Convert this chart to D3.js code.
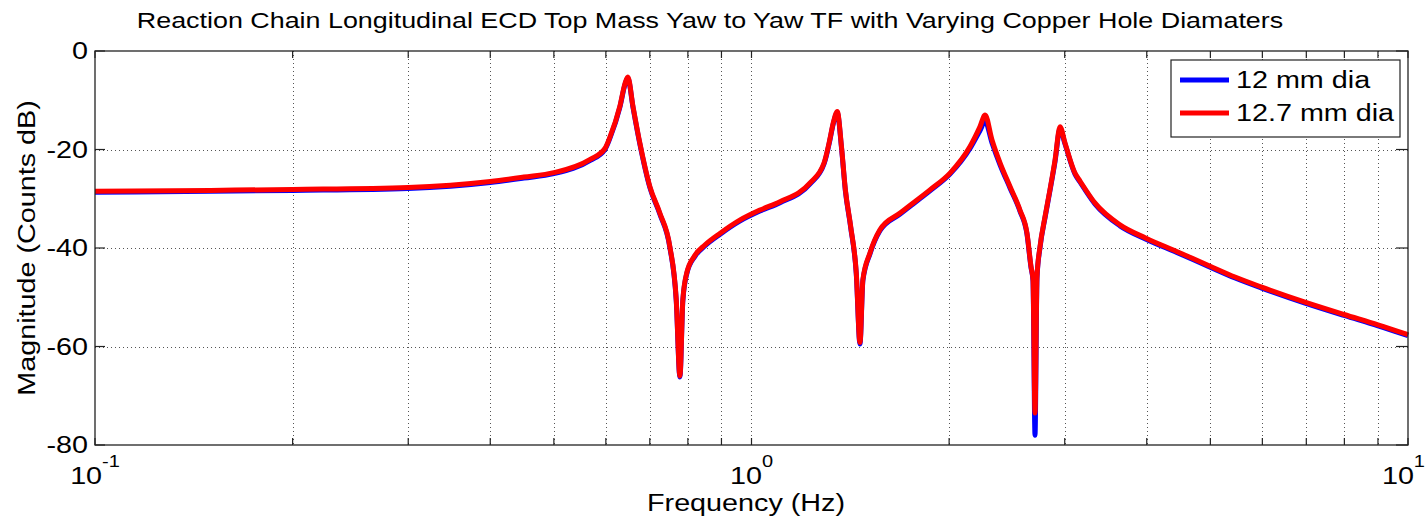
<!DOCTYPE html>
<html>
<head>
<meta charset="utf-8">
<title>Yaw to Yaw TF</title>
<script src="https://cdn.jsdelivr.net/npm/d3@7"></script>
<style>
  body { margin: 0; background: #fff; }
  text { font-family: "Liberation Sans", Arial, sans-serif; fill: #000; }
</style>
</head>
<body>
<svg id="chart" width="1427" height="524"></svg>
<script>
// frequency points (Hz)
var freqHz = [0.1, 0.15, 0.2, 0.3, 0.4, 0.45, 0.5, 0.568, 0.598, 0.609, 0.63, 0.642, 0.648, 0.66, 0.676, 0.7, 0.725, 0.751, 0.768, 0.778,
  0.786, 0.797, 0.82, 0.849, 0.896, 0.961, 1.03, 1.105, 1.228, 1.29, 1.316, 1.332, 1.351, 1.371, 1.39, 1.416, 1.444, 1.463,
  1.478, 1.515, 1.569, 1.684, 1.87, 2.006, 2.152, 2.228, 2.269, 2.324, 2.391, 2.476, 2.564, 2.628, 2.665, 2.684, 2.703,
  2.722, 2.751, 2.8, 2.85, 2.9, 2.951, 3.003, 3.11, 3.165, 3.337, 3.641, 3.99, 4.443, 4.977, 5.452, 5.972, 6.968, 7.988, 9.0, 10];

// magnitude (counts dB), 12 mm dia
var mag12 = [-28.7, -28.5, -28.3, -27.9, -26.7, -25.8, -24.9, -22.2, -20.0, -17.6, -11.5, -6.7, -5.5, -11.5, -18.9, -27.7, -33.1, -39.9, -50.7, -66.2,
  -50.7, -45.2, -41.7, -39.6, -37.2, -34.5, -32.5, -30.8, -27.0, -22.9, -18.2, -14.8, -12.6, -19.6, -28.4, -35.8, -45.2, -59.5,
  -46.6, -41.2, -36.5, -33.1, -28.4, -25.0, -19.8, -16.2, -14.3, -18.6, -23.1, -27.8, -32.5, -37.2, -43.9, -46.6, -78.0,
  -46.0, -39.9, -33.8, -28.2, -22.4, -15.8, -18.9, -25.0, -26.6, -31.1, -35.5, -38.2, -40.9, -43.8, -46.1, -48.1, -51.2, -53.7, -55.8, -57.8];

// magnitude (counts dB), 12.7 mm dia
var mag127 = [-28.5, -28.3, -28.1, -27.7, -26.5, -25.6, -24.7, -22.0, -19.8, -17.4, -11.3, -6.5, -5.3, -11.3, -18.7, -27.5, -32.9, -39.7, -50.5, -66.0,
  -50.5, -45.0, -41.5, -39.4, -37.0, -34.3, -32.3, -30.6, -26.8, -22.7, -18.0, -14.6, -12.3, -19.4, -28.2, -35.6, -45.0, -59.2,
  -46.4, -41.0, -36.3, -32.9, -28.2, -24.8, -19.4, -15.4, -13.0, -18.0, -22.7, -27.5, -32.3, -37.0, -43.7, -46.4, -73.5,
  -45.8, -39.7, -33.6, -28.0, -22.1, -15.4, -18.7, -24.8, -26.4, -30.9, -35.3, -38.0, -40.7, -43.6, -45.9, -47.9, -51.0, -53.5, -55.6, -57.6];

var seriesNames = ["12 mm dia", "12.7 mm dia"];
var seriesColors = ["#0000ff", "#ff0000"];
var yTicks = [0, -20, -40, -60, -80];
var xDecades = [0.1, 1, 10];
var xExponents = ["-1", "0", "1"];

var svg = d3.select("#chart");
var pLeft = 95, pRight = 1408, pTop = 51, pBottom = 445;
var sx = 1.25; // the reference text is stretched sideways

var x = d3.scaleLog().domain([0.1, 10]).range([pLeft, pRight]);
var y = d3.scaleLinear().domain([-80, 0]).range([pBottom, pTop]);

// stretched text helper
function label(px, py, anchor, size, str, rot) {
  var g = svg.append("g")
    .attr("transform", "translate(" + px + "," + py + ")" + (rot ? " rotate(-90)" : "") + " scale(" + sx + ",1)");
  return g.append("text").attr("text-anchor", anchor).attr("font-size", size).text(str);
}

// all log grid positions: 0.1..1..10
var xGrid = [];
[0.1, 1].forEach(function(d) { for (var k = 1; k <= 9; k++) xGrid.push(d * k); });
xGrid.push(10);

var grid = svg.append("g").attr("stroke", "#555").attr("stroke-width", 1).attr("stroke-dasharray", "1,3");
grid.selectAll(".gx").data(xGrid.slice(1, -1)).enter().append("line")
  .attr("x1", function(d) { return Math.round(x(d)) + 0.5; })
  .attr("x2", function(d) { return Math.round(x(d)) + 0.5; })
  .attr("y1", pTop).attr("y2", pBottom);
grid.selectAll(".gy").data(yTicks.slice(1, -1)).enter().append("line")
  .attr("y1", function(d) { return Math.round(y(d)) + 0.5; })
  .attr("y2", function(d) { return Math.round(y(d)) + 0.5; })
  .attr("x1", pLeft).attr("x2", pRight);

// tick marks, inward on all sides
var ticks = svg.append("g").attr("stroke", "#222").attr("stroke-width", 1.2);
ticks.selectAll(".tb").data(xGrid).enter().append("line")
  .attr("x1", function(d) { return x(d); }).attr("x2", function(d) { return x(d); })
  .attr("y1", pBottom).attr("y2", pBottom - 7);
ticks.selectAll(".tt").data(xGrid).enter().append("line")
  .attr("x1", function(d) { return x(d); }).attr("x2", function(d) { return x(d); })
  .attr("y1", pTop).attr("y2", pTop + 7);
ticks.selectAll(".tl").data(yTicks).enter().append("line")
  .attr("y1", function(d) { return y(d); }).attr("y2", function(d) { return y(d); })
  .attr("x1", pLeft).attr("x2", pLeft + 10);
ticks.selectAll(".tr").data(yTicks).enter().append("line")
  .attr("y1", function(d) { return y(d); }).attr("y2", function(d) { return y(d); })
  .attr("x1", pRight).attr("x2", pRight - 12);

// curves
var line = d3.line()
  .curve(d3.curveMonotoneX)
  .x(function(d) { return x(d[0]); })
  .y(function(d) { return y(d[1]); });

[mag12, mag127].forEach(function(m, i) {
  svg.append("path")
    .datum(freqHz.map(function(f, j) { return [f, m[j]]; }))
    .attr("fill", "none")
    .attr("stroke", seriesColors[i])
    .attr("stroke-width", 5)
    .attr("stroke-linejoin", "round")
    .attr("d", line);
});

// axes box
svg.append("rect").attr("x", pLeft).attr("y", pTop)
  .attr("width", pRight - pLeft).attr("height", pBottom - pTop)
  .attr("fill", "none").attr("stroke", "#222").attr("stroke-width", 1.3);

// y tick labels
yTicks.forEach(function(d) {
  label(pLeft - 7, y(d), "end", 23, d).attr("dy", "0.35em");
});

// x tick labels 10^n
xDecades.forEach(function(d, i) {
  var last = i === xDecades.length - 1;
  var t = label(last ? 1425 : x(d), 484, last ? "end" : "middle", 23, null);
  t.append("tspan").text("10");
  t.append("tspan").attr("font-size", 16).attr("dy", -17).text(xExponents[i]);
});

// title and axis labels
label(710, 28, "middle", 21.5, "Reaction Chain Longitudinal ECD Top Mass Yaw to Yaw TF with Varying Copper Hole Diamaters");
label(746, 511, "middle", 23, "Frequency (Hz)");
label(35, (pTop + pBottom) / 2, "middle", 23, "Magnitude (Counts dB)", true);

// legend
var lg = svg.append("g");
lg.append("rect").attr("x", 1171).attr("y", 60).attr("width", 229).attr("height", 77)
  .attr("fill", "#fff").attr("stroke", "#222").attr("stroke-width", 1.2);
seriesNames.forEach(function(name, i) {
  var ly = 80 + i * 33;
  lg.append("line").attr("x1", 1180).attr("x2", 1229).attr("y1", ly).attr("y2", ly)
    .attr("stroke", seriesColors[i]).attr("stroke-width", 5);
  label(1236, ly, "start", 23, name).attr("dy", "0.35em");
});
</script>
</body>
</html>
